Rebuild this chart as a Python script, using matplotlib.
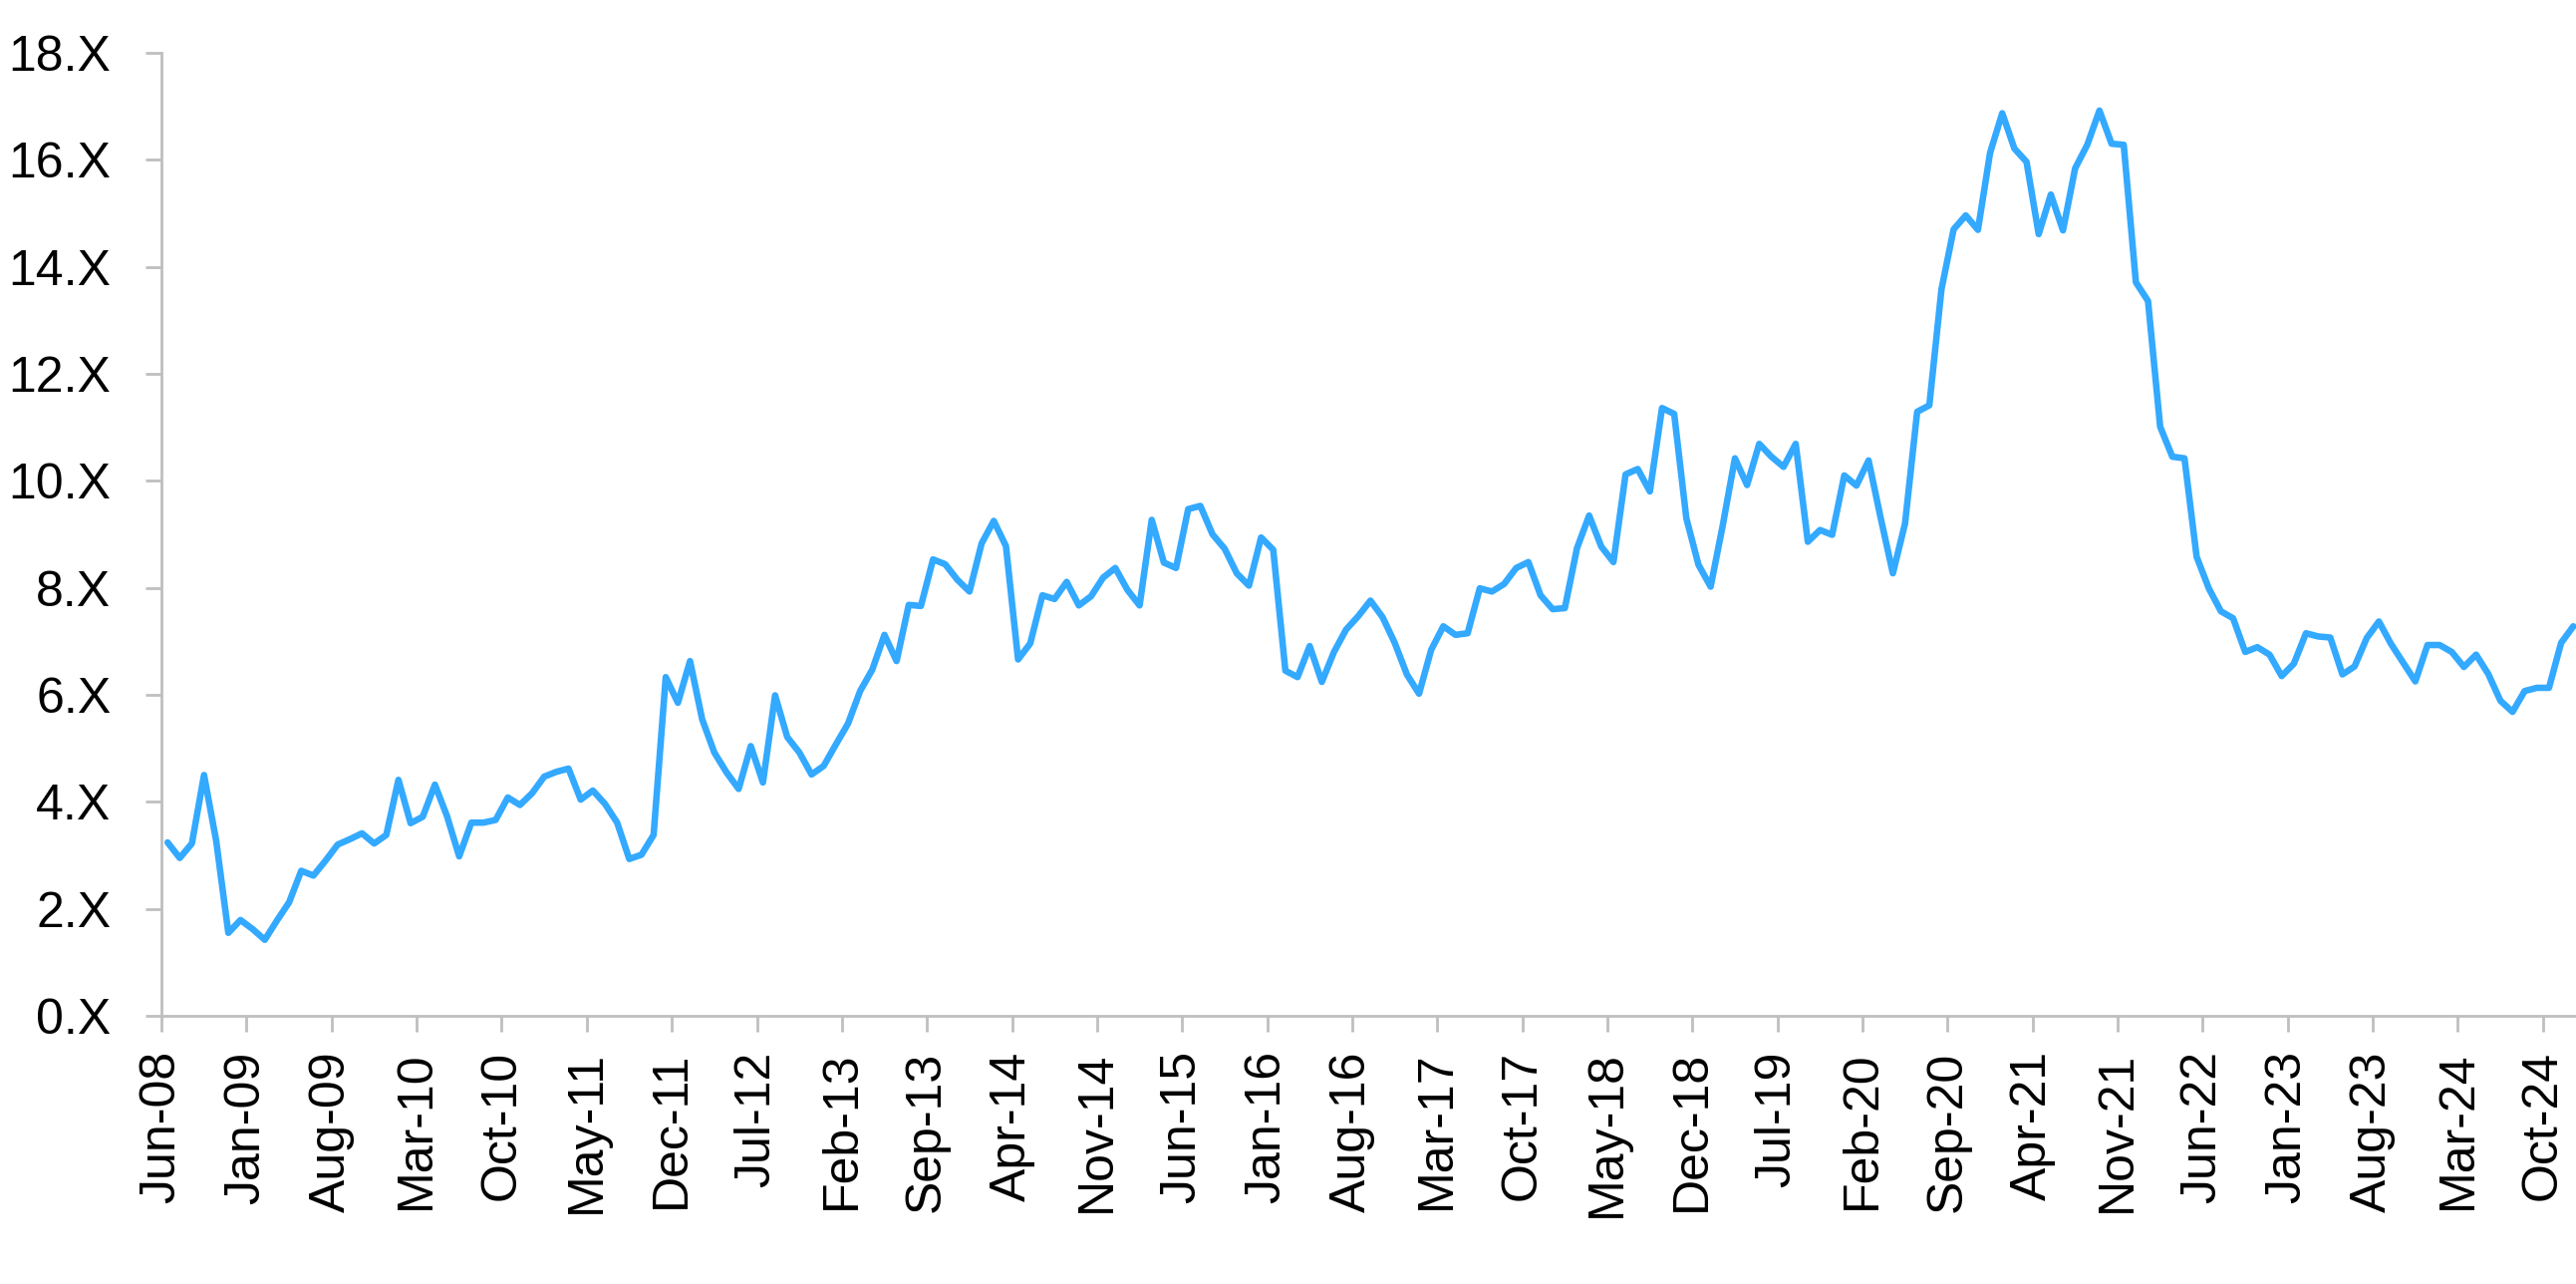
import matplotlib.pyplot as plt
import numpy as np

# monthly valuation multiple, Jun-08 .. Dec-24
mult_08_10 = [3.24, 2.95, 3.22, 4.50, 3.27, 1.55, 1.79, 1.62, 1.42, 1.78,
              2.12, 2.71, 2.62, 2.90, 3.20, 3.30, 3.41, 3.22, 3.38, 4.41,
              3.60, 3.72, 4.32, 3.73, 2.98, 3.61, 3.61, 3.66, 4.08, 3.94]
mult_10_13 = [4.16, 4.47, 4.56, 4.62, 4.04, 4.21, 3.96, 3.61, 2.93, 3.01,
              3.38, 6.33, 5.85, 6.63, 5.54, 4.92, 4.55, 4.24, 5.04, 4.36,
              5.99, 5.21, 4.92, 4.51, 4.67, 5.07, 5.46, 6.07, 6.47, 7.12]
mult_13_15 = [6.63, 7.68, 7.66, 8.53, 8.44, 8.15, 7.93, 8.83, 9.25, 8.78,
              6.66, 6.96, 7.86, 7.79, 8.11, 7.67, 7.84, 8.19, 8.37, 7.96,
              7.67, 9.27, 8.47, 8.37, 9.47, 9.53, 9.00, 8.73, 8.27, 8.04]
mult_15_18 = [8.94, 8.71, 6.45, 6.33, 6.91, 6.24, 6.80, 7.22, 7.47, 7.76,
              7.45, 6.97, 6.38, 6.02, 6.84, 7.28, 7.12, 7.15, 7.99, 7.93,
              8.07, 8.37, 8.48, 7.86, 7.60, 7.62, 8.74, 9.35, 8.77, 8.48]
mult_18_20 = [10.12, 10.22, 9.80, 11.36, 11.25, 9.30, 8.43, 8.02, 9.17, 10.42,
              9.92, 10.69, 10.45, 10.26, 10.69, 8.86, 9.08, 8.99, 10.10, 9.91,
              10.38, 9.30, 8.27, 9.20, 11.29, 11.41, 13.58, 14.70, 14.96, 14.69]
mult_20_22 = [16.13, 16.87, 16.21, 15.96, 14.61, 15.35, 14.68, 15.84, 16.28, 16.92,
              16.30, 16.28, 13.71, 13.36, 11.01, 10.45, 10.42, 8.58, 7.99, 7.56]
mult_22_24 = [7.43, 6.80, 6.89, 6.75, 6.35, 6.58, 7.15, 7.09, 7.07, 6.38,
              6.53, 7.06, 7.37, 6.95, 6.60, 6.25, 6.93, 6.93, 6.80, 6.52,
              6.75, 6.39, 5.89, 5.68, 6.07, 6.13, 6.13, 6.97, 7.28]

tick_labels = ["Jun-08", "Jan-09", "Aug-09", "Mar-10", "Oct-10", "May-11",
               "Dec-11", "Jul-12", "Feb-13", "Sep-13", "Apr-14", "Nov-14",
               "Jun-15", "Jan-16", "Aug-16", "Mar-17", "Oct-17", "May-18",
               "Dec-18", "Jul-19", "Feb-20", "Sep-20", "Apr-21", "Nov-21",
               "Jun-22", "Jan-23", "Aug-23", "Mar-24", "Oct-24"]
y_ticks = [0, 2, 4, 6, 8, 10, 12, 14, 16, 18]

values = np.array(mult_08_10 + mult_10_13 + mult_13_15 + mult_15_18
                  + mult_18_20 + mult_20_22 + mult_22_24)
n = len(values)
x = np.arange(n) + 0.5          # points sit between the tick marks

plt.rcParams['font.family'] = ['Liberation Sans', 'DejaVu Sans']
grey = "#BFBFBF"

fig = plt.figure(figsize=(25.85, 12.88), dpi=100)
ax = fig.add_axes([0.0627, 0.2089, 0.9386, 0.7500])

ax.plot(x, values, color="#33A9FF", lw=4.7, solid_joinstyle="round",
        solid_capstyle="round")

ax.set_xlim(0, n)
ax.set_ylim(0, 18)
ax.set_xticks(np.arange(len(tick_labels)) * 7)
ax.set_xticklabels(tick_labels, rotation=90)
ax.set_yticks(y_ticks)
ax.set_yticklabels(["%d.X" % v for v in y_ticks])

for side in ["top", "right"]:
    ax.spines[side].set_visible(False)
for side in ["left", "bottom"]:
    ax.spines[side].set_color(grey)
    ax.spines[side].set_linewidth(2)

ax.tick_params(axis="both", colors=grey, length=11.5, width=2,
               labelcolor="black", labelsize=36)
ax.tick_params(axis="y", pad=25)
ax.tick_params(axis="x", pad=14)

fig.savefig("out.png", dpi=100)
